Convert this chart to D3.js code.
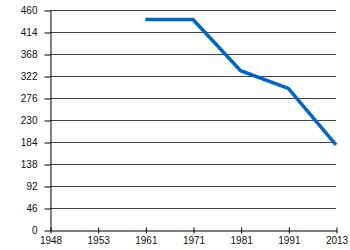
<!DOCTYPE html>
<html>
<head>
<meta charset="utf-8">
<script src="https://cdn.jsdelivr.net/npm/d3@7"></script>
<style>
  body { margin: 0; background: #fff; }
</style>
</head>
<body>
<script>
// Chart data
const years = ["1948", "1953", "1961", "1971", "1981", "1991", "2013"];
const seriesYears = ["1961", "1971", "1981", "1991", "2013"];
const seriesValues = [440, 440, 333, 296, 178];
const yTicks = [0, 46, 92, 138, 184, 230, 276, 322, 368, 414, 460];

const width = 350;
const height = 250;
const marginTop = 10;
const marginRight = 14;
const marginBottom = 20;
const marginLeft = 50;

const svg = d3.select("body").append("svg")
    .attr("width", width)
    .attr("height", height)
    .attr("viewBox", [0, 0, width, height])
    .style("font", "10px 'Liberation Sans', Arial, sans-serif");

// x positions are categories, evenly spaced
const x = d3.scalePoint()
    .domain(years)
    .range([marginLeft, width - marginRight]);

const y = d3.scaleLinear()
    .domain([0, 460])
    .range([height - marginBottom, marginTop]);

// Horizontal grid lines
svg.append("g")
    .selectAll("line")
    .data(yTicks.slice(1))
    .join("line")
    .attr("x1", marginLeft)
    .attr("x2", width - marginRight)
    .attr("y1", d => y(d) + 0.5)
    .attr("y2", d => y(d) + 0.5)
    .attr("stroke", "#444")
    .attr("stroke-width", 1);

// y axis
svg.append("g")
    .attr("transform", `translate(${marginLeft + 0.5},0.5)`)
    .call(d3.axisLeft(y).tickValues(yTicks).tickSize(6).tickPadding(7).tickSizeOuter(0))
    .call(g => g.select(".domain").attr("stroke", "#000"))
    .call(g => g.selectAll(".tick line").attr("stroke", "#000"))
    .call(g => g.selectAll(".tick text")
        .attr("fill", "#111")
        .style("font-size", "10px"));

// x axis
svg.append("g")
    .attr("transform", `translate(0.5,${height - marginBottom + 0.5})`)
    .call(d3.axisBottom(x).tickSize(3).tickPadding(3).tickSizeOuter(0))
    .call(g => g.select(".domain").attr("stroke", "#000"))
    .call(g => g.selectAll(".tick line").attr("y1", -3).attr("stroke", "#000"))
    .call(g => g.selectAll(".tick text")
        .attr("fill", "#111")
        .style("font-size", "10px"));

// Series line
const line = d3.line()
    .x((d, i) => x(seriesYears[i]))
    .y(d => y(d));

svg.append("path")
    .datum(seriesValues)
    .attr("fill", "none")
    .attr("stroke", "#0066cc")
    .attr("stroke-width", 3.5)
    .attr("stroke-linejoin", "round")
    .attr("d", line);
</script>
</body>
</html>
